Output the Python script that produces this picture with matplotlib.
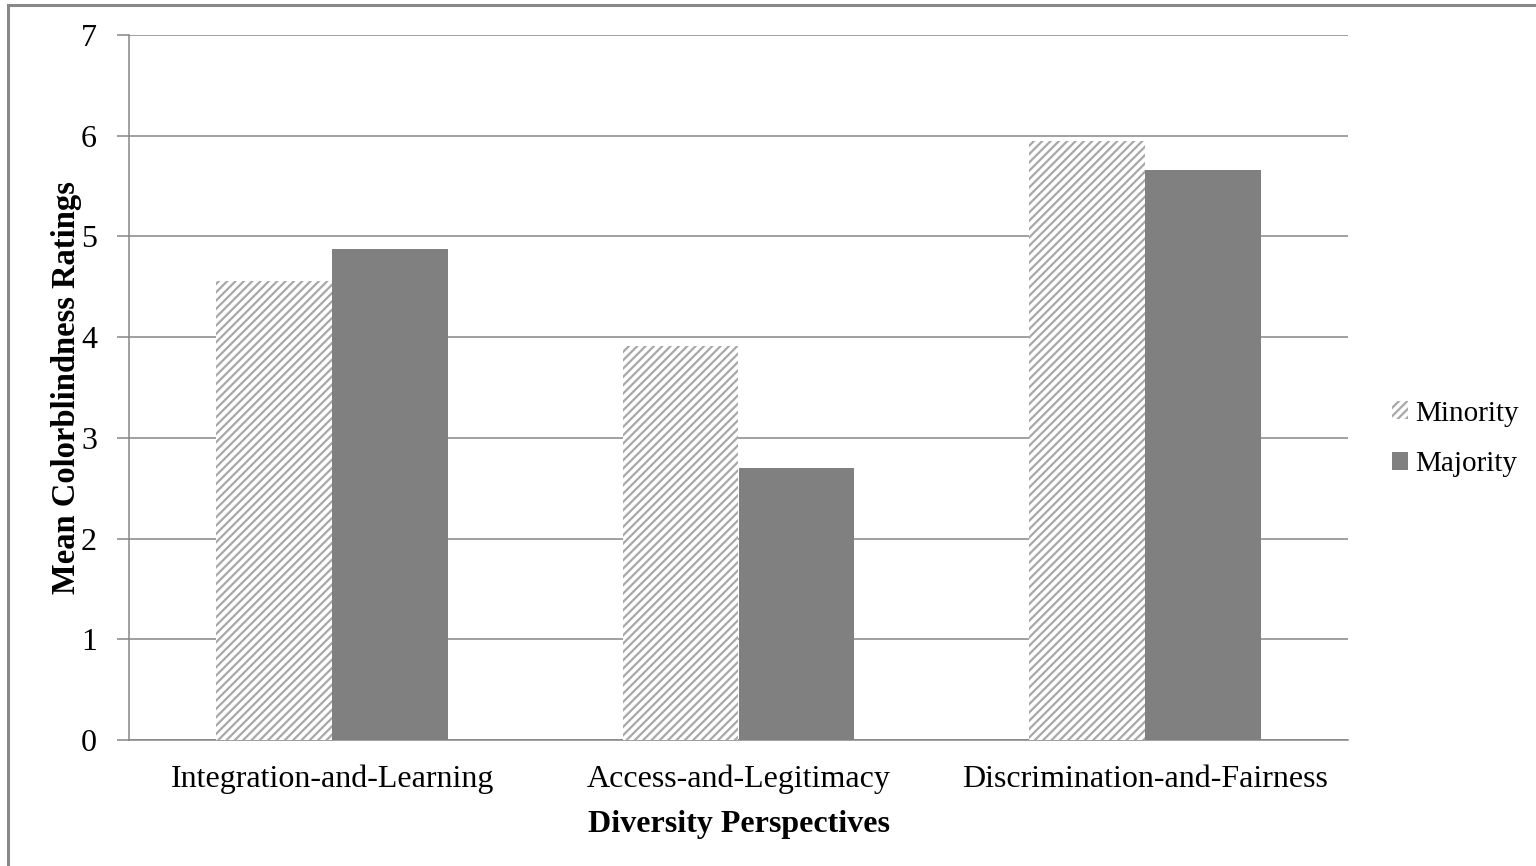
import matplotlib
matplotlib.use("Agg")
import matplotlib.pyplot as plt
from matplotlib.patches import Patch
from matplotlib.lines import Line2D
import numpy as np

categories = ["Integration-and-Learning", "Access-and-Legitimacy", "Discrimination-and-Fairness"]
minority = [4.56, 3.91, 5.95]
majority = [4.88, 2.70, 5.66]
series_names = ["Minority", "Majority"]
y_ticks = [0, 1, 2, 3, 4, 5, 6, 7]

plt.rcParams["font.family"] = ["Liberation Serif", "DejaVu Serif"]
plt.rcParams["hatch.linewidth"] = 1.6

grey_line = "#868686"
hatch_grey = "#a8a8a8"
solid_grey = "#808080"

fig = plt.figure(figsize=(15.36, 8.66), dpi=100)
ax = fig.add_axes([129 / 1536, 1 - 740 / 866, (1348 - 129) / 1536, (740 - 35) / 866])

x = np.arange(len(categories))
w = 0.285
ax.bar(x - w / 2, minority, width=w, facecolor="white", edgecolor=hatch_grey,
       hatch="////", linewidth=0, zorder=3)
ax.bar(x + w / 2, majority, width=w, color=solid_grey, linewidth=0, zorder=3)

ax.set_xlim(-0.5, len(categories) - 0.5)
ax.set_ylim(0, 7)
ax.set_yticks(y_ticks)
ax.set_yticklabels([str(t) for t in y_ticks])
ax.set_xticks(x)
ax.set_xticklabels(categories)

ax.yaxis.grid(True, color=grey_line, linewidth=1.1, zorder=0)
ax.set_axisbelow(True)
for side in ["top", "right"]:
    ax.spines[side].set_visible(False)
for side in ["left", "bottom"]:
    ax.spines[side].set_color(grey_line)
    ax.spines[side].set_linewidth(1.1)

ax.tick_params(axis="y", direction="out", length=9, width=1.1, color=grey_line,
               labelsize=23, pad=14)
ax.tick_params(axis="x", length=0, labelsize=23, pad=18)

ax.set_xlabel("Diversity Perspectives", fontsize=23, fontweight="bold", labelpad=11)
ax.set_ylabel("Mean Colorblindness Ratings", fontsize=23.5, fontweight="bold", labelpad=-1)

handles = [
    Patch(facecolor="white", edgecolor=hatch_grey, hatch="////", linewidth=0),
    Patch(facecolor=solid_grey, linewidth=0),
]
fig.legend(handles, series_names, loc="center left",
           bbox_to_anchor=(1392 / 1536, 1 - 439 / 866), frameon=False,
           fontsize=21, handlelength=0.55, handleheight=0.55, handletextpad=0.25,
           labelspacing=0.85, borderaxespad=0, borderpad=0)

# outer frame (left and top edges)
fig.add_artist(Line2D([7.5 / 1536, 7.5 / 1536], [0, 1 - 5 / 866],
                      transform=fig.transFigure, color="#888888", linewidth=2.2))
fig.add_artist(Line2D([7.5 / 1536, 1], [1 - 5 / 866, 1 - 5 / 866],
                      transform=fig.transFigure, color="#888888", linewidth=2.2))

fig.savefig("out.png", dpi=100, facecolor="white")
